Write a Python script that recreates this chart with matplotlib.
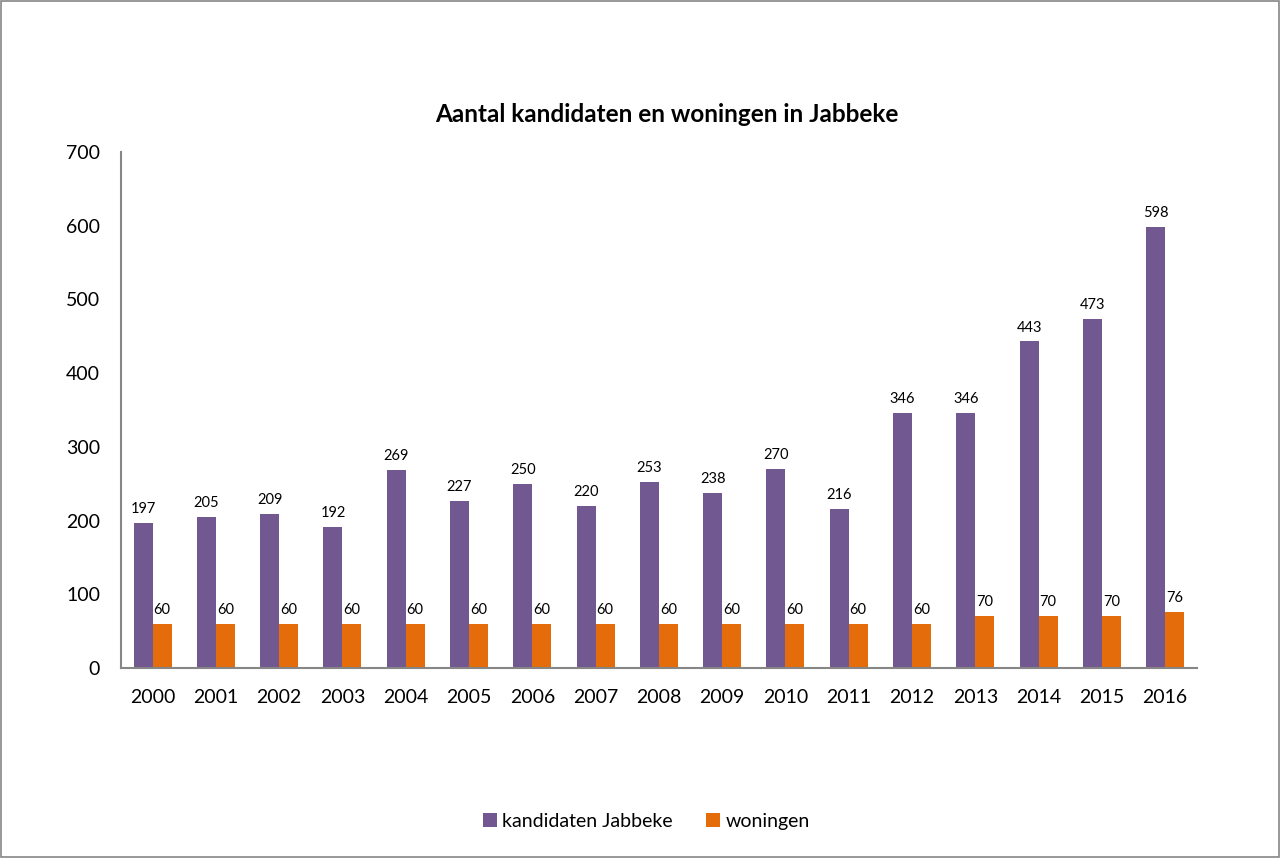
import numpy as np
import matplotlib.pyplot as plt
from matplotlib.patches import Rectangle

years = ["2000", "2001", "2002", "2003", "2004", "2005", "2006", "2007", "2008",
         "2009", "2010", "2011", "2012", "2013", "2014", "2015", "2016"]
kandidaten = [197, 205, 209, 192, 269, 227, 250, 220, 253, 238, 270, 216, 346, 346, 443, 473, 598]
woningen = [60, 60, 60, 60, 60, 60, 60, 60, 60, 60, 60, 60, 60, 70, 70, 70, 76]

PURPLE = "#725891"
ORANGE = "#E46C0A"
AXIS_GREY = "#868686"

plt.rcParams["font.family"] = ["Lato", "DejaVu Sans"]

fig = plt.figure(figsize=(12.8, 8.58), dpi=100)
ax = fig.add_axes([0.0945, 0.2214, 0.8405, 0.6014])

x = np.arange(len(years))
w = 0.30
b1 = ax.bar(x - w / 2, kandidaten, w, color=PURPLE, label="kandidaten Jabbeke")
b2 = ax.bar(x + w / 2, woningen, w, color=ORANGE, label="woningen")

for rect, v in zip(b1, kandidaten):
    ax.annotate(str(v), (rect.get_x() + rect.get_width() / 2, v),
                xytext=(0, 5), textcoords="offset points",
                ha="center", va="bottom", fontsize=10.5)
for rect, v in zip(b2, woningen):
    ax.annotate(str(v), (rect.get_x() + rect.get_width() / 2, v),
                xytext=(0, 5), textcoords="offset points",
                ha="center", va="bottom", fontsize=10.5)

ax.set_xlim(-0.5, len(years) - 0.5)
ax.set_ylim(0, 700)
ax.set_yticks(range(0, 701, 100))
ax.set_xticks(x)
ax.set_xticklabels(years)
ax.tick_params(axis="both", length=0, labelsize=14)
ax.tick_params(axis="x", pad=15)
ax.tick_params(axis="y", pad=15)

for side in ("top", "right"):
    ax.spines[side].set_visible(False)
for side in ("left", "bottom"):
    ax.spines[side].set_color(AXIS_GREY)
    ax.spines[side].set_linewidth(1.5)

fig.text(0.521, 0.867, "Aantal kandidaten en woningen in Jabbeke",
         ha="center", va="center", fontsize=17.5, fontweight="bold")

fig.legend(loc="center", bbox_to_anchor=(0.505, 0.043), ncol=2, frameon=False,
           fontsize=14, handlelength=0.7, handleheight=0.7, handletextpad=0.3,
           columnspacing=1.7)

# thin frame around the whole chart area
fig.patches.append(Rectangle((0.001, 0.001), 0.998, 0.998, transform=fig.transFigure,
                             fill=False, edgecolor=AXIS_GREY, linewidth=1.2))

fig.savefig("out.png", dpi=100)
